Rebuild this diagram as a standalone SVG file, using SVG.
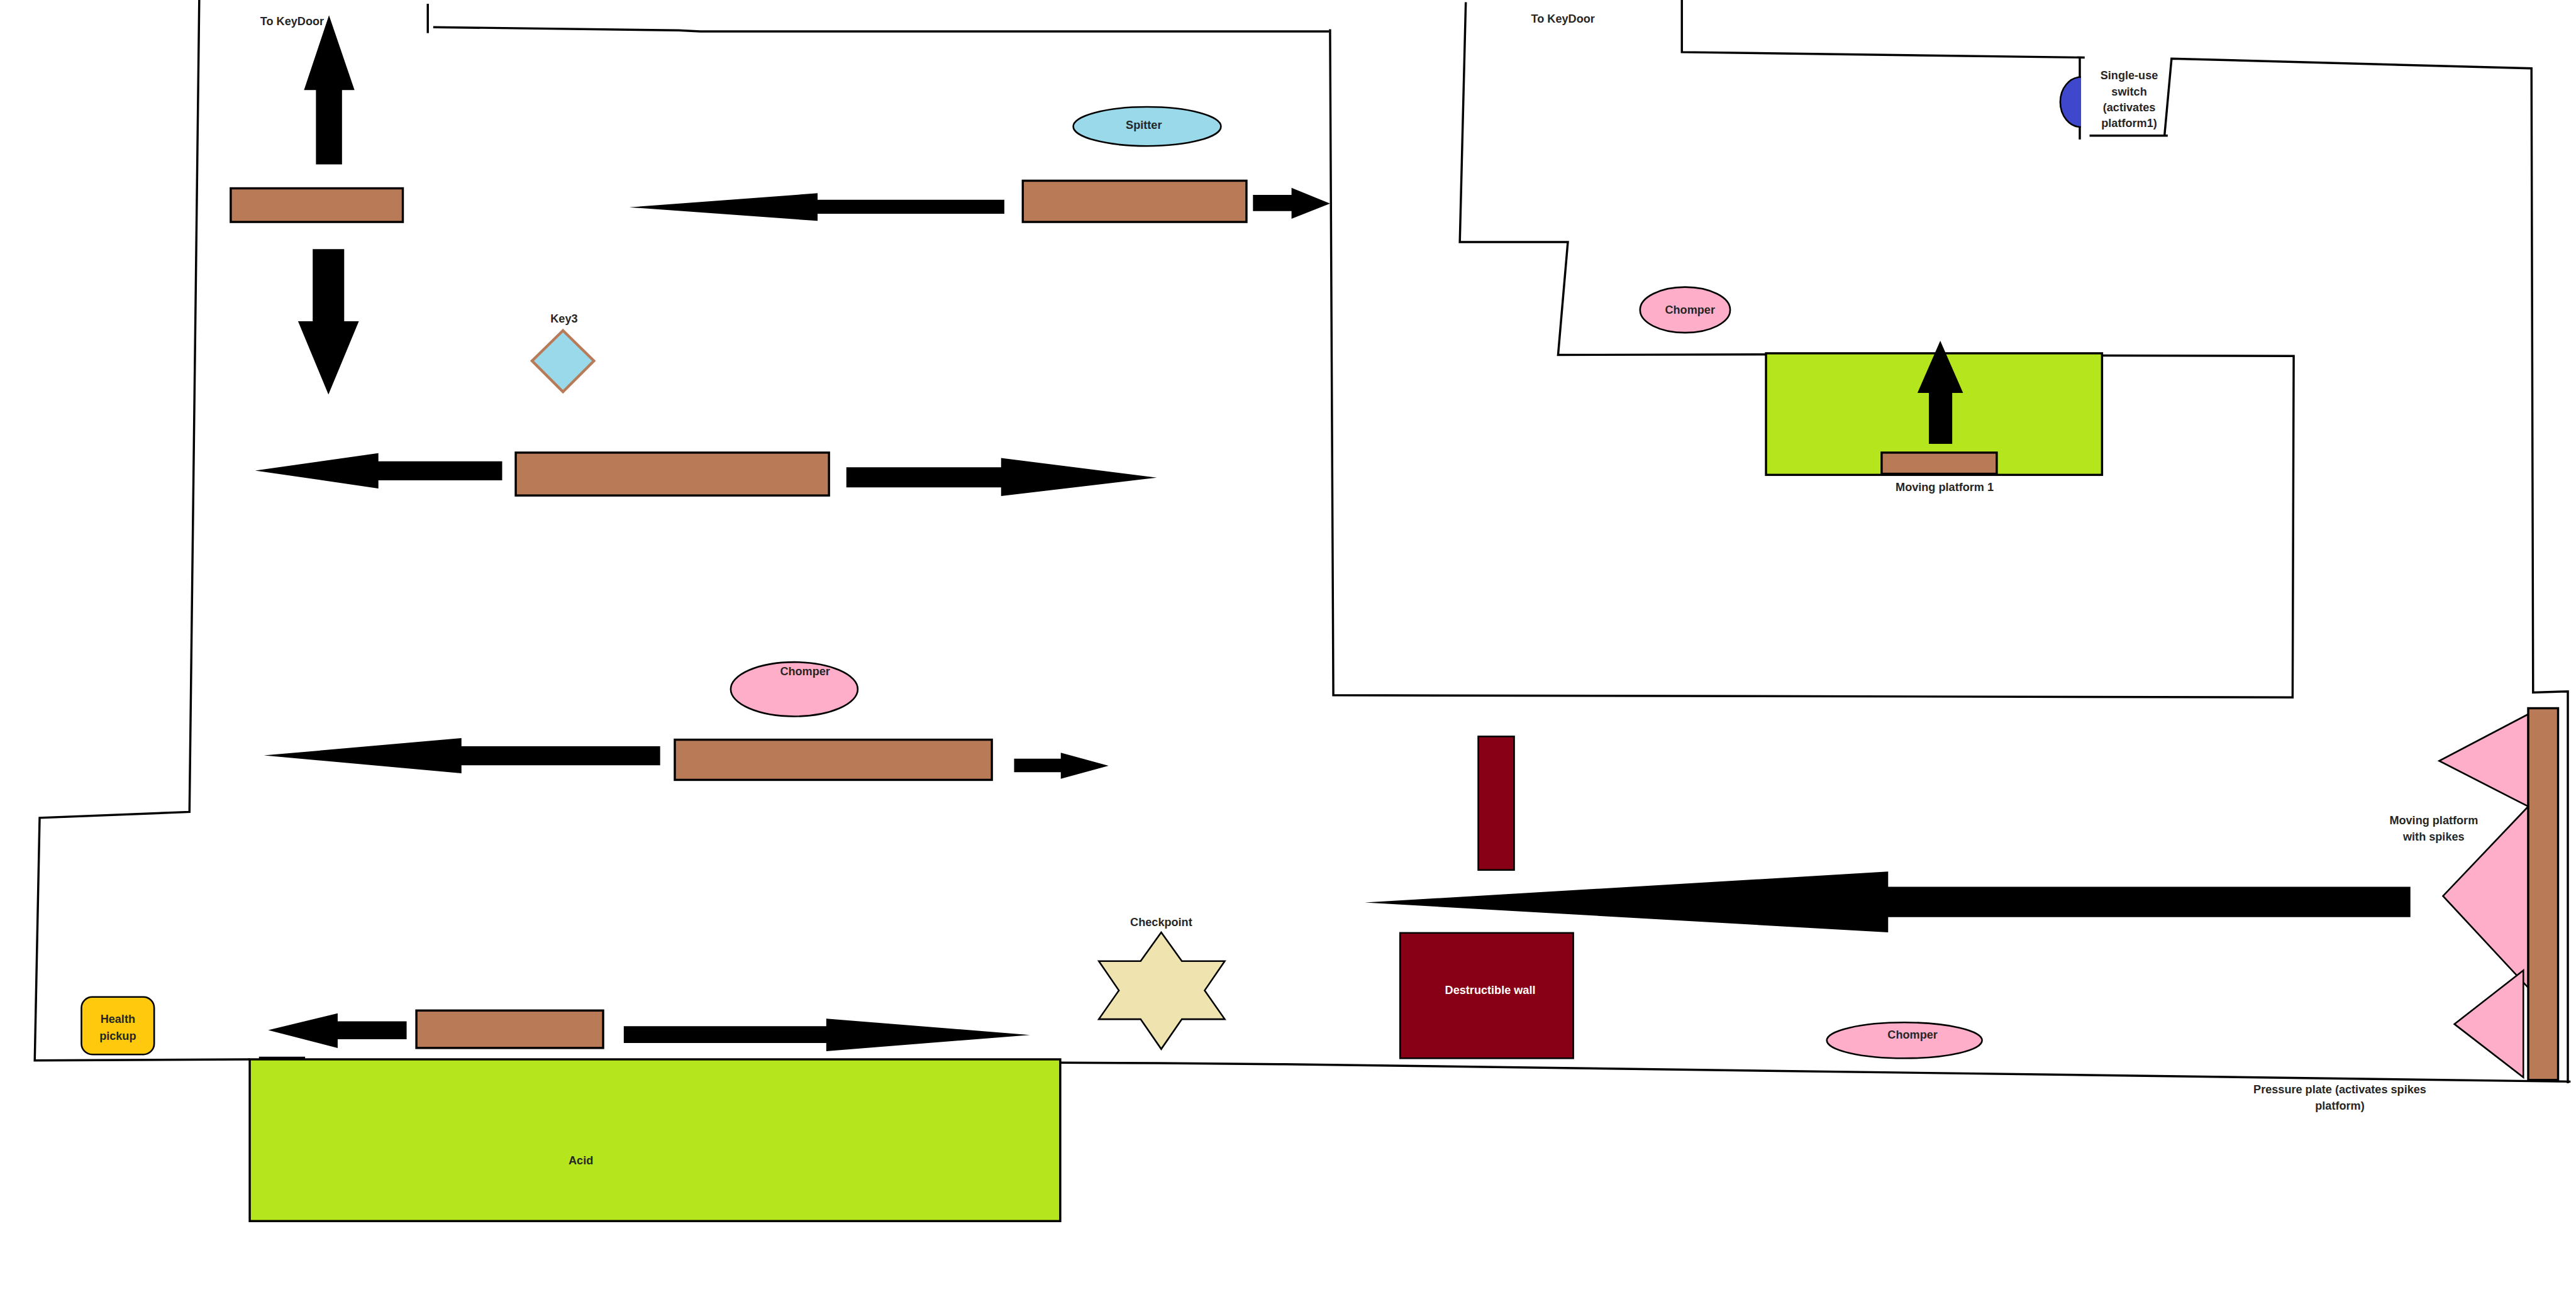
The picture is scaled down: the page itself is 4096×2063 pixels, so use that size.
<svg xmlns="http://www.w3.org/2000/svg" width="4096" height="2063" viewBox="0 0 4096 2063">
<style>
.wall{fill:none;stroke:#000;stroke-width:4;stroke-linejoin:miter}
.plat{fill:#B97A57;stroke:#000;stroke-width:4}
.arrow{fill:#000}
.acid{fill:#B5E61D;stroke:#000;stroke-width:4}
.pink{fill:#FFAEC9;stroke:#000;stroke-width:3}
.lblue{fill:#99D9EA;stroke:#000;stroke-width:3}
.dred{fill:#880015;stroke:#000;stroke-width:3}
.t{font-family:"Liberation Sans",Arial,sans-serif;font-weight:bold;font-size:21px;fill:#262626;text-anchor:middle;dominant-baseline:central}
</style>
<rect width="4096" height="2063" fill="#fff"/>
<g transform="scale(0.86322)">
  <g id="walls">
    <polyline class="wall" points="367,0 349,1496 73,1507 64,1954 460,1952"/>
    <line class="wall" x1="477" y1="1949" x2="562" y2="1949" stroke-width="6"/>
    <line class="wall" x1="788" y1="7" x2="788" y2="61"/>
    <polyline class="wall" points="798,50 1250,56 1290,58 2448,58"/>
    <polyline class="wall" points="2450,54 2456,1281 4223,1285 4225,656 3872,655"/>
    <polyline class="wall" points="2700,4 2689,446 2888,446 2870,654 3253,653"/>
    <polyline class="wall" points="3098,0 3098,96 3840,106"/>
    <line class="wall" x1="3831" y1="106" x2="3831" y2="257"/>
    <line class="wall" x1="3849" y1="250" x2="3993" y2="250"/>
    <polyline class="wall" points="3987,250 4000,108 4663,126 4666,1276 4730,1274 4730,1996"/>
    <polyline class="wall" points="1953,1958 2135,1959 2366,1961 4735,1993"/>
  </g>

  <g id="acid">
    <rect class="acid" x="460" y="1952" width="1493" height="298"/>
    <text class="t" x="1070" y="2139">Acid</text>
  </g>

  <g id="arrows">
    <polygon class="arrow" points="582,303 582,166 560,166 606,28 653,166 630,166 630,303"/>
    <polygon class="arrow" points="576,459 634,459 634,592 661,592 605,727 549,592 576,592"/>
    <polygon class="arrow" points="1159,382 1506,356 1506,368 1850,368 1850,394 1506,394 1506,407"/>
    <polygon class="arrow" points="2308,359 2379,359 2379,346 2450,375 2379,403 2379,389 2308,389"/>
    <polygon class="arrow" points="470,867 697,835 697,850 925,850 925,885 697,885 697,900"/>
    <polygon class="arrow" points="1559,861 1844,861 1844,844 2131,880 1844,914 1844,898 1559,898"/>
    <polygon class="arrow" points="486,1392 850,1360 850,1375 1216,1375 1216,1410 850,1410 850,1425"/>
    <polygon class="arrow" points="1868,1398 1954,1398 1954,1387 2042,1411 1954,1435 1954,1423 1868,1423"/>
    <polygon class="arrow" points="494,1898 622,1867 622,1882 749,1882 749,1915 622,1915 622,1931"/>
    <polygon class="arrow" points="1149,1891 1522,1891 1522,1877 1897,1907 1522,1937 1522,1922 1149,1922"/>
    <polygon class="arrow" points="2514,1663 3478,1606 3478,1634 4440,1634 4440,1690 3478,1690 3478,1718"/>
  </g>

  <g id="platforms">
    <rect class="plat" x="425" y="347" width="317" height="62"/>
    <rect class="plat" x="1884" y="333" width="412" height="76"/>
    <rect class="plat" x="950" y="834" width="577" height="79"/>
    <rect class="plat" x="1243" y="1363" width="584" height="74"/>
    <rect class="plat" x="767" y="1862" width="344" height="69"/>
  </g>

  <g id="to-keydoor-1"><text class="t" x="538" y="39">To KeyDoor</text></g>
  <g id="to-keydoor-2"><text class="t" x="2879" y="35">To KeyDoor</text></g>

  <g id="key3">
    <text class="t" x="1039" y="587">Key3</text>
    <polygon points="1037,609 1094,665 1037,722 980,665" fill="#99D9EA" stroke="#B97A57" stroke-width="5"/>
  </g>

  <g id="spitter">
    <ellipse class="lblue" cx="2113" cy="233" rx="136" ry="36"/>
    <text class="t" x="2107" y="230">Spitter</text>
  </g>

  <g id="chomper-1">
    <ellipse class="pink" cx="3104" cy="571" rx="83" ry="42"/>
    <text class="t" x="3113" y="571">Chomper</text>
  </g>

  <g id="chomper-2">
    <ellipse class="pink" cx="1463" cy="1270" rx="117" ry="50"/>
    <text class="t" x="1483" y="1237">Chomper</text>
  </g>

  <g id="chomper-3">
    <ellipse class="pink" cx="3508" cy="1917" rx="143" ry="33"/>
    <text class="t" x="3523" y="1907">Chomper</text>
  </g>

  <g id="moving-platform-1">
    <rect class="acid" x="3253" y="651" width="619" height="224"/>
    <rect class="plat" x="3466" y="834" width="212" height="39"/>
    <polygon class="arrow" points="3553,818 3553,724 3532,724 3574,628 3616,724 3596,724 3596,818"/>
    <text class="t" x="3582" y="898">Moving platform 1</text>
  </g>

  <g id="single-use-switch">
    <path d="M3833,142 A38,46 0 0 0 3833,234 Z" fill="#3F48CC"/>
    <path d="M3833,142 A38,46 0 0 0 3833,234" fill="none" stroke="#000" stroke-width="3"/>
    <text class="t" x="3922" y="139">Single-use</text>
    <text class="t" x="3922" y="169">switch</text>
    <text class="t" x="3922" y="198">(activates</text>
    <text class="t" x="3922" y="227">platform1)</text>
  </g>

  <g id="destructible-wall">
    <rect class="dred" x="2723" y="1357" width="66" height="246"/>
    <rect class="dred" x="2579" y="1719" width="319" height="231"/>
    <text class="t" x="2745" y="1824" style="fill:#fff">Destructible wall</text>
  </g>

  <g id="checkpoint">
    <text class="t" x="2139" y="1699">Checkpoint</text>
    <polygon points="2139,1718 2177,1771 2256,1771 2219,1825 2256,1878 2177,1878 2139,1933 2101,1878 2024,1878 2061,1825 2024,1771 2101,1771" fill="#EFE4B0" stroke="#000" stroke-width="3"/>
  </g>

  <g id="health-pickup">
    <rect x="150" y="1837" width="134" height="106" rx="20" fill="#FFC90E" stroke="#000" stroke-width="3"/>
    <text class="t" x="217" y="1878">Health</text>
    <text class="t" x="217" y="1909">pickup</text>
  </g>

  <g id="spikes-platform">
    <polygon class="pink" points="4657,1486 4500,1651 4657,1820"/>
    <polygon class="pink" points="4657,1316 4493,1402 4657,1486"/>
    <polygon class="pink" points="4648,1788 4521,1887 4648,1985"/>
    <rect class="plat" x="4657" y="1305" width="55" height="685"/>
    <text class="t" x="4483" y="1512">Moving platform</text>
    <text class="t" x="4483" y="1542">with spikes</text>
  </g>

  <g id="pressure-plate">
    <text class="t" x="4310" y="2008">Pressure plate (activates spikes</text>
    <text class="t" x="4310" y="2038">platform)</text>
  </g>
</g>
</svg>
